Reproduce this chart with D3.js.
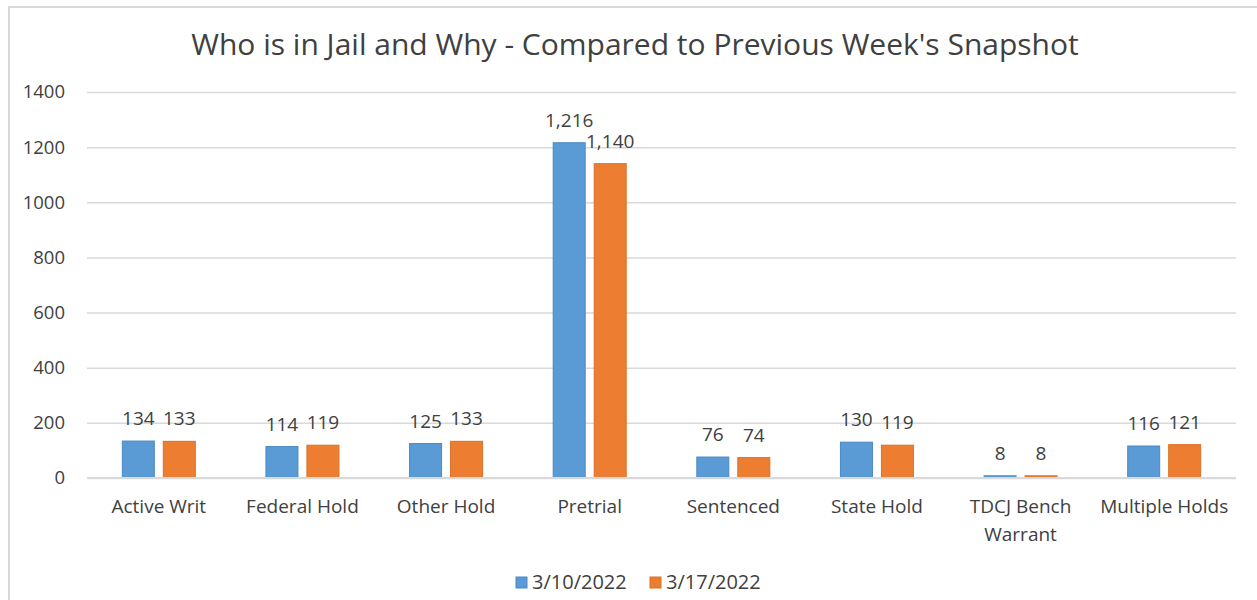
<!DOCTYPE html>
<html>
<head>
<meta charset="utf-8">
<script src="https://cdn.jsdelivr.net/npm/d3@7"></script>
<style>
  body { margin: 0; background: #fff; }
  text { font-family: "Open Sans", Lato, sans-serif; fill: #404040; }
</style>
</head>
<body>
<div id="chart"></div>
<script>
// chart data
var categories = ["Active Writ", "Federal Hold", "Other Hold", "Pretrial", "Sentenced", "State Hold", "TDCJ Bench Warrant", "Multiple Holds"];
var series = ["3/10/2022", "3/17/2022"];
var week1 = [134, 114, 125, 1216, 76, 130, 8, 116];
var week2 = [133, 119, 133, 1140, 74, 119, 8, 121];
var yTicks = [0, 200, 400, 600, 800, 1000, 1200, 1400];
var colors = ["#5b9bd5", "#ed7d31"];
var strokes = ["#4a89c4", "#d9702a"];

var W = 1257, H = 600;
var plotLeft = 87, plotRight = 1236, plotTop = 92, plotBottom = 478;

var svg = d3.select("#chart").append("svg")
    .attr("width", W)
    .attr("height", H);

// chart border
svg.append("rect")
    .attr("x", 9).attr("y", 7)
    .attr("width", 1260).attr("height", 600)
    .attr("fill", "#fff")
    .attr("stroke", "#d9d9d9")
    .attr("stroke-width", 2);

svg.append("text")
    .attr("x", 635).attr("y", 55)
    .attr("text-anchor", "middle")
    .style("font-size", "30px")
    .text("Who is in Jail and Why - Compared to Previous Week's Snapshot");

var y = d3.scaleLinear().domain([0, 1400]).range([plotBottom, plotTop]);
var x0 = d3.scaleBand().domain(categories).range([plotLeft, plotRight]);
var x1 = d3.scaleBand().domain(series)
    .range([x0.bandwidth() / 2 - 36.5, x0.bandwidth() / 2 + 36.5])
    .paddingInner(0.2195);

// gridlines + y labels
var yAxis = d3.axisLeft(y).tickValues(yTicks).tickFormat(d3.format("d"))
    .tickSize(-(plotRight - plotLeft)).tickPadding(22);
var gy = svg.append("g").attr("transform", "translate(" + plotLeft + ",0)").call(yAxis);
gy.select(".domain").remove();
gy.selectAll("line").attr("stroke", "#d9d9d9").attr("stroke-width", 1.5);
gy.selectAll("text").style("font-size", "18.5px").style("fill", "#404040");

// category labels
var xAxis = d3.axisBottom(x0).tickSize(0).tickPadding(22);
var gx = svg.append("g").attr("transform", "translate(0," + plotBottom + ")").call(xAxis);
gx.select(".domain").remove();
gx.selectAll("text")
    .style("font-size", "19px").style("fill", "#404040")
    .each(function(d) {
        var t = d3.select(this);
        if (d === "TDCJ Bench Warrant") {
            t.text(null);
            t.append("tspan").attr("x", 0).attr("dy", "0.71em").text("TDCJ Bench");
            t.append("tspan").attr("x", 0).attr("dy", "1.45em").text("Warrant");
        }
    });

var values = [week1, week2];
var rows = categories.map(function(c, i) {
    return series.map(function(s, j) { return { cat: c, s: s, j: j, v: values[j][i] }; });
});

var groups = svg.selectAll(".grp").data(rows).enter().append("g")
    .attr("class", "grp")
    .attr("transform", function(d) { return "translate(" + x0(d[0].cat) + ",0)"; });

groups.selectAll("rect").data(function(d) { return d; }).enter().append("rect")
    .attr("x", function(d) { return x1(d.s); })
    .attr("y", function(d) { return y(d.v); })
    .attr("width", x1.bandwidth())
    .attr("height", function(d) { return plotBottom - y(d.v); })
    .attr("fill", function(d) { return colors[d.j]; })
    .attr("stroke", function(d) { return strokes[d.j]; })
    .attr("stroke-width", 1);

// zero line drawn over the bar bottoms, as in the original
svg.append("line")
    .attr("x1", plotLeft).attr("x2", plotRight)
    .attr("y1", y(0)).attr("y2", y(0))
    .attr("stroke", "#d9d9d9").attr("stroke-width", 2);

groups.selectAll(".lbl").data(function(d) { return d; }).enter().append("text")
    .attr("class", "lbl")
    .attr("x", function(d) { return x1(d.s) + x1.bandwidth() / 2; })
    .attr("y", function(d) { return y(d.v) - 16; })
    .attr("text-anchor", "middle")
    .style("font-size", "19px")
    .text(function(d) { return d3.format(",")(d.v); });

// legend
var legX = [516, 650];
var leg = svg.selectAll(".leg").data(series).enter().append("g")
    .attr("class", "leg")
    .attr("transform", function(d, i) { return "translate(" + legX[i] + ",577)"; });
leg.append("rect")
    .attr("width", 11).attr("height", 11)
    .attr("fill", function(d, i) { return colors[i]; })
    .attr("stroke", function(d, i) { return strokes[i]; });
leg.append("text")
    .attr("x", 16).attr("y", 12)
    .style("font-size", "20px")
    .text(function(d) { return d; });
</script>
</body>
</html>
